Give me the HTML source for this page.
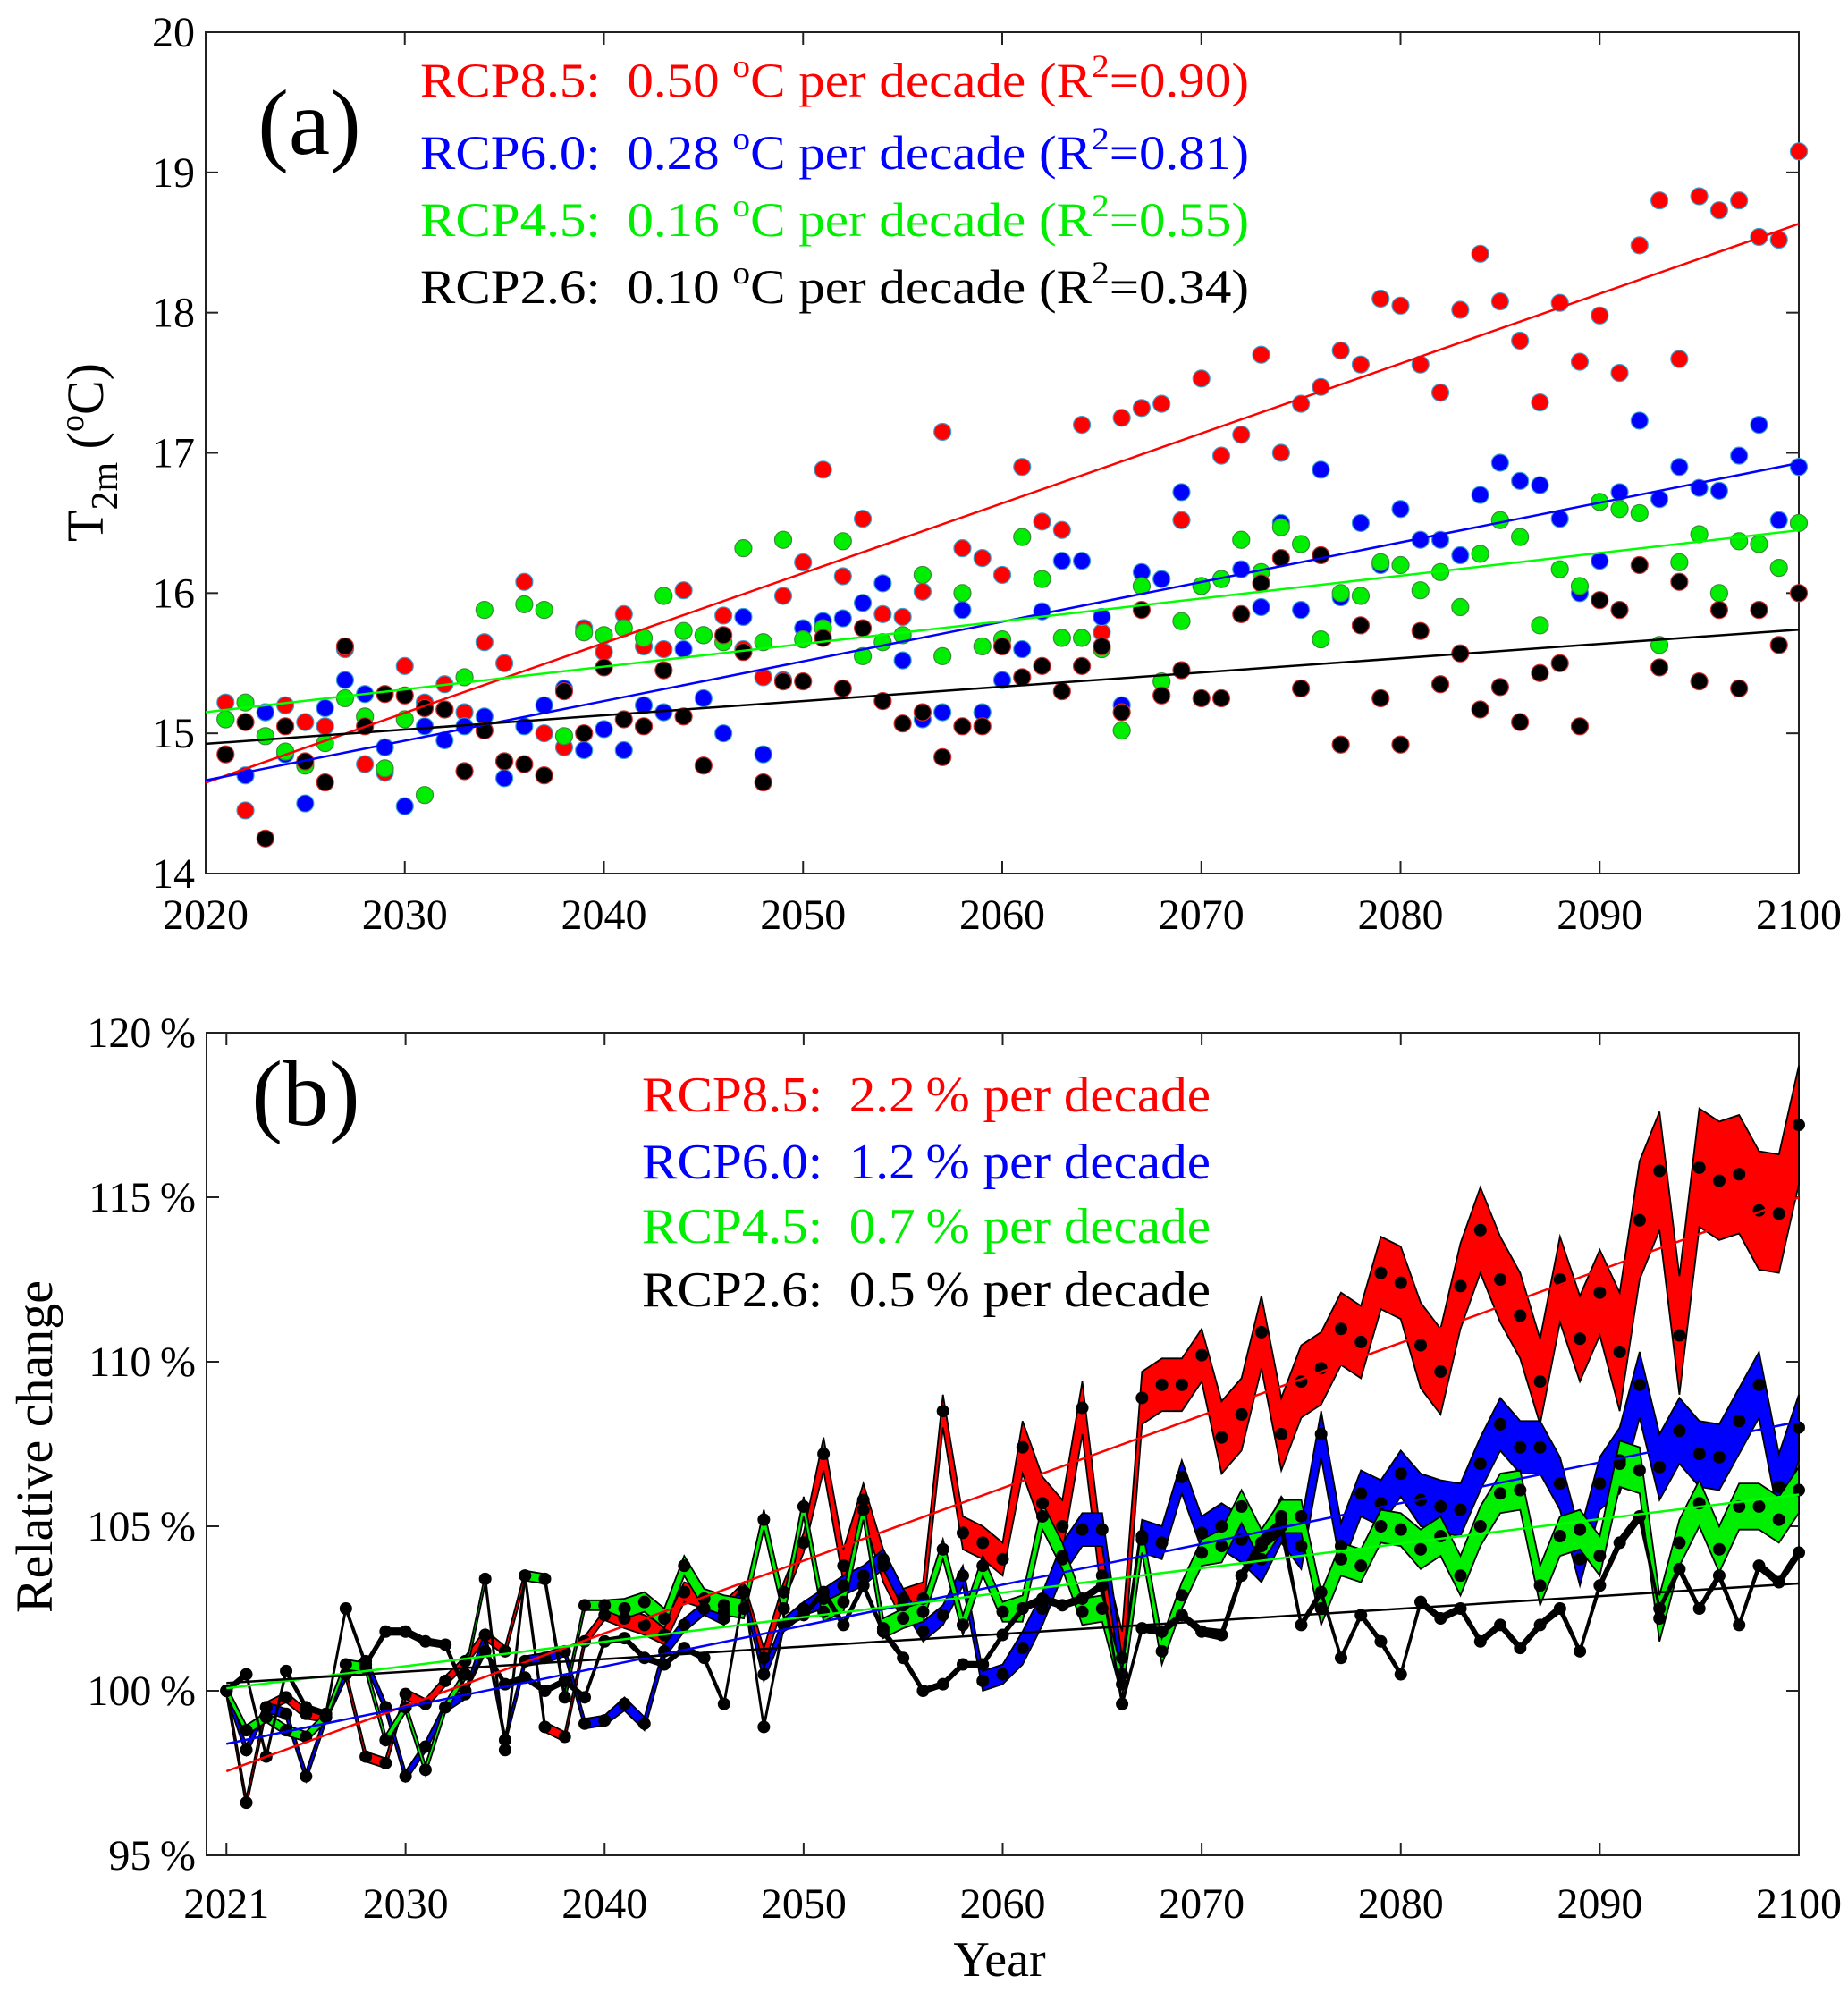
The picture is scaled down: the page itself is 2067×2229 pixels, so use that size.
<!DOCTYPE html>
<html><head><meta charset="utf-8"><style>
html,body{margin:0;padding:0;background:#fff}
svg{display:block;font-family:"Liberation Serif",serif}
</style></head><body>
<svg id="fig" width="2067" height="2229" viewBox="0 0 2067 2229" xmlns="http://www.w3.org/2000/svg">
<g id="pa"></g>
<g id="pb"></g>
</svg>
<script>
// ---------- Panel (a) data ----------
const yearsA = [];
for (let y = 2021; y <= 2100; y++) yearsA.push(y);
const t85 = [15.22,14.45,15.15,15.2,15.08,15.05,15.6,14.78,14.72,15.48,
15.22,15.35,15.15,15.65,15.5,16.08,15.0,14.9,15.75,15.58,
15.85,15.62,15.6,16.02,15.7,15.84,15.6,15.4,15.98,16.22,
16.88,16.12,16.53,15.85,15.83,16.01,17.15,16.32,16.25,16.13,
16.9,16.51,16.45,17.2,15.72,17.25,17.32,17.35,16.52,17.53,
16.98,17.13,17.7,17.0,17.35,17.47,17.73,17.63,18.1,18.05,
17.63,17.43,18.02,18.42,18.08,17.8,17.36,18.07,17.65,17.98,
17.57,18.48,18.8,17.67,18.83,18.73,18.8,18.54,18.52,19.15];
const t60 = [15.1,14.7,15.15,14.85,14.5,15.18,15.38,15.28,14.9,14.48,
15.05,14.95,15.05,15.12,14.68,15.05,15.2,15.32,14.88,15.03,
14.88,15.2,15.15,15.6,15.25,15.0,15.83,14.85,15.38,15.75,
15.8,15.82,15.93,16.07,15.52,15.1,15.15,15.88,15.15,15.38,
15.6,15.87,16.23,16.23,15.83,15.2,16.15,16.1,16.72,16.05,
16.1,16.17,15.9,16.5,15.88,16.88,15.97,16.5,16.2,16.6,
16.38,16.38,16.27,16.7,16.93,16.8,16.77,16.53,16.0,16.23,
16.72,17.23,16.67,16.9,16.75,16.73,16.98,17.2,16.52,16.9];
const t45 = [15.1,15.22,14.98,14.87,14.77,14.93,15.25,15.12,14.75,15.1,
14.56,15.17,15.4,15.88,14.8,15.92,15.88,14.98,15.72,15.7,
15.75,15.68,15.98,15.73,15.7,15.65,16.32,15.65,16.38,15.67,
15.75,16.37,15.55,15.65,15.7,16.13,15.55,16.0,15.62,15.67,
16.4,16.1,15.68,15.68,15.6,15.02,16.05,15.37,15.8,16.05,
16.1,16.38,16.15,16.47,16.35,15.67,16.0,15.98,16.22,16.2,
16.02,16.15,15.9,16.28,16.52,16.4,15.77,16.17,16.05,16.65,
16.6,16.57,15.63,16.22,16.42,16.0,16.37,16.35,16.18,16.5];
const t26 = [14.85,15.08,14.25,15.05,14.8,14.65,15.62,15.05,15.28,15.27,
15.18,15.17,14.73,15.02,14.8,14.78,14.7,15.3,15.0,15.47,
15.1,15.05,15.45,15.12,14.77,15.7,15.58,14.65,15.37,15.37,
15.68,15.32,15.75,15.23,15.07,15.15,14.83,15.05,15.05,15.62,
15.4,15.48,15.3,15.48,15.62,15.15,15.88,15.27,15.45,15.25,
15.25,15.85,16.07,16.25,15.32,16.27,14.92,15.77,15.25,14.92,
15.73,15.35,15.57,15.17,15.33,15.08,15.43,15.5,15.05,15.95,
15.88,16.2,15.47,16.08,15.37,15.88,15.32,15.88,15.63,16.0];
const yTicksA = [14,15,16,17,18,19,20];
const xTicksA = [2020,2030,2040,2050,2060,2070,2080,2090,2100];

// ---------- Panel (b) data ----------
const m85 = [100,96.6,99.5,99.8,99.3,99.2,100.5,98.0,97.8,99.9,
99.6,100.3,100.9,101.7,101.2,103.5,98.9,98.6,101.5,102.3,
102.2,102.0,101.7,103.0,102.8,102.4,103.0,101.0,103.0,104.5,
107.2,103.8,105.8,103.8,102.6,102.8,108.5,104.8,104.5,104.0,
107.4,105.7,105.0,108.6,103.5,101.0,108.9,109.3,109.3,110.2,
107.7,108.4,110.9,107.8,109.4,109.8,111.0,110.6,112.7,112.4,
110.5,109.7,112.3,114.0,112.5,111.4,109.4,112.5,110.7,112.1,
110.3,114.3,115.8,110.8,115.9,115.5,115.7,114.6,114.5,117.2];
const m60 = [100,98.2,99.5,99.3,97.4,99.2,100.5,100.9,99.5,97.4,
98.3,99.5,99.9,101.7,98.5,100.9,101.0,101.2,99.0,99.1,
99.6,99.0,101.2,102.0,102.5,102.2,103.0,100.5,102.0,102.5,
102.8,103.2,103.5,104.0,102.8,101.8,102.3,103.5,100.3,100.5,
101.3,102.5,104.0,104.9,104.9,100.5,104.7,104.5,106.5,104.8,
105.0,104.6,104.0,105.2,104.4,107.8,104.4,106.0,105.7,106.6,
105.8,105.6,105.5,106.9,108.1,107.4,107.4,106.3,104.0,106.3,
107.0,109.3,106.8,107.9,107.2,107.1,108.2,109.3,106.2,108.0];
const m45 = [100,98.8,99.2,98.8,98.6,99.2,100.8,100.7,98.5,99.5,
97.6,99.5,100.5,103.4,98.2,103.5,103.4,99.8,102.6,102.6,
102.5,102.7,102.2,103.8,102.8,102.6,102.5,105.2,102.5,105.6,
102.4,102.7,105.5,101.9,102.2,102.4,104.3,102.0,103.8,102.4,
102.5,105.3,104.1,102.4,102.5,100.2,104.6,101.2,102.9,104.2,
104.4,105.6,104.4,105.3,105.3,102.5,104.0,103.8,105.0,104.9,
104.3,104.7,103.5,105.0,106.0,106.1,103.2,104.7,104.9,104.1,
106.9,106.7,102.2,104.5,105.7,104.3,105.6,105.6,105.2,106.1];
const m26 = [100,100.5,98.0,100.6,99.5,99.3,102.5,100.8,101.8,101.8,
101.5,101.4,100.0,101.2,100.2,100.4,100.0,100.3,99.8,101.5,
101.6,101.0,100.8,101.3,101.0,99.6,103.0,98.9,102.0,102.3,
103.0,102.0,103.2,101.8,101.0,100.0,100.2,100.8,100.8,101.7,
102.5,102.8,102.6,102.8,103.2,99.6,101.9,101.8,102.3,101.8,
101.7,103.5,104.5,105.0,102.0,103.0,101.0,102.3,101.5,100.5,
102.7,102.2,102.5,101.5,102.0,101.3,102.0,102.5,101.2,103.2,
104.5,105.3,102.5,103.7,102.5,103.5,102.0,103.8,103.3,104.2];
const s85 = [0.15,0.15,0.15,0.15,0.15,0.15,0.15,0.15,0.15,0.15,
0.15,0.15,0.15,0.15,0.15,0.15,0.15,0.15,0.15,0.15,
0.3,0.3,0.3,0.3,0.3,0.3,0.3,0.3,0.3,0.3,
0.5,0.5,0.5,0.5,0.5,0.5,0.5,0.5,0.5,0.5,
0.8,0.8,0.8,0.8,0.8,0.8,0.8,0.8,0.8,0.8,
1.1,1.1,1.1,1.1,1.1,1.1,1.1,1.1,1.1,1.1,
1.3,1.3,1.3,1.3,1.3,1.3,1.3,1.3,1.3,1.3,
1.8,1.8,1.8,1.8,1.8,1.8,1.8,1.8,1.8,1.8];
const s60 = [0.15,0.15,0.15,0.15,0.15,0.15,0.15,0.15,0.15,0.15,
0.15,0.15,0.15,0.15,0.15,0.15,0.15,0.15,0.15,0.15,
0.2,0.2,0.2,0.2,0.2,0.2,0.2,0.2,0.2,0.2,
0.3,0.3,0.3,0.3,0.3,0.3,0.3,0.3,0.3,0.3,
0.5,0.5,0.5,0.5,0.5,0.5,0.5,0.5,0.5,0.5,
0.7,0.7,0.7,0.7,0.7,0.7,0.7,0.7,0.7,0.7,
0.8,0.8,0.8,0.8,0.8,0.8,0.8,0.8,0.8,0.8,
1.0,1.0,1.0,1.0,1.0,1.0,1.0,1.0,1.0,1.0];
const s45 = [0.15,0.15,0.15,0.15,0.15,0.15,0.15,0.15,0.15,0.15,
0.15,0.15,0.15,0.15,0.15,0.15,0.15,0.15,0.15,0.15,
0.3,0.3,0.3,0.3,0.3,0.3,0.3,0.3,0.3,0.3,
0.3,0.3,0.3,0.3,0.3,0.3,0.3,0.3,0.3,0.3,
0.4,0.4,0.4,0.4,0.4,0.4,0.4,0.4,0.4,0.4,
0.5,0.5,0.5,0.5,0.5,0.5,0.5,0.5,0.5,0.5,
0.6,0.6,0.6,0.6,0.6,0.6,0.6,0.6,0.6,0.6,
0.7,0.7,0.7,0.7,0.7,0.7,0.7,0.7,0.7,0.7];
const s26 = [0.08,0.08,0.08,0.08,0.08,0.08,0.08,0.08,0.1,0.1,
0.1,0.1,0.08,0.08,0.08,0.08,0.08,0.08,0.08,0.08,
0.08,0.08,0.08,0.08,0.08,0.08,0.1,0.08,0.08,0.08,
0.1,0.1,0.1,0.1,0.1,0.08,0.08,0.08,0.08,0.08,
0.1,0.1,0.1,0.1,0.1,0.08,0.1,0.1,0.1,0.12,
0.15,0.15,0.2,0.25,0.1,0.1,0.08,0.08,0.08,0.08,
0.1,0.1,0.1,0.1,0.1,0.1,0.1,0.12,0.08,0.12,
0.15,0.15,0.08,0.12,0.08,0.12,0.08,0.12,0.12,0.15];
const yTicksB = [95,100,105,110,115,120];
const xTicksB = [2021,2030,2040,2050,2060,2070,2080,2090,2100];

const NS = "http://www.w3.org/2000/svg";
function mk(parent, tag, attrs, text) {
  const e = document.createElementNS(NS, tag);
  for (const k in attrs) e.setAttribute(k, attrs[k]);
  if (text !== undefined) e.textContent = text;
  parent.appendChild(e);
  return e;
}
function fit(xs, ys) {
  const n = xs.length; let sx=0, sy=0, sxx=0, sxy=0;
  for (let i=0;i<n;i++){sx+=xs[i];sy+=ys[i];sxx+=xs[i]*xs[i];sxy+=xs[i]*ys[i];}
  const b=(n*sxy-sx*sy)/(n*sxx-sx*sx); const a=(sy-b*sx)/n; return [a,b];
}
const colors = ['#ff0000','#0000ff','#00ee00','#000000'];

// ===== Panel A =====
(function(){
  const g = document.getElementById('pa');
  const L=230, R=2012, T=36, B=977;
  const xA = v => L + (v-2020)/80*(R-L);
  const yA = v => B - (v-14)/6*(B-T);
  const box = mk(g,'rect',{x:L,y:T,width:R-L,height:B-T,fill:'none',stroke:'#222','stroke-width':2});
  
  
  yTicksA.forEach(v=>{
    mk(g,'line',{x1:L,x2:L+14,y1:yA(v),y2:yA(v),stroke:'#222','stroke-width':2});
    mk(g,'line',{x1:R,x2:R-14,y1:yA(v),y2:yA(v),stroke:'#222','stroke-width':2});
    const t = mk(g,'text',{x:L-12,y:yA(v)+16,'text-anchor':'end','font-size':48},String(v));
    
    
  });
  xTicksA.forEach(v=>{
    mk(g,'line',{x1:xA(v),x2:xA(v),y1:B,y2:B-14,stroke:'#222','stroke-width':2});
    mk(g,'line',{x1:xA(v),x2:xA(v),y1:T,y2:T+14,stroke:'#222','stroke-width':2});
    const t = mk(g,'text',{x:xA(v),y:B+62,'text-anchor':'middle','font-size':48},String(v));
    
    
  });
  const series = [t85,t60,t45,t26];
  const strokes = ['#3aa0d0','#3aa0d0','#3a8a3a','#d03030'];
  const names = ['rcp85','rcp60','rcp45','rcp26'];
  series.forEach((s,k)=>{
    const sg = mk(g,'g',{});
    
    
    s.forEach((v,i)=>{
      const c = mk(sg,'circle',{cx:xA(yearsA[i]),cy:yA(v),r:9.5,fill:colors[k],stroke:strokes[k],'stroke-width':1.2});
      
      
    });
  });
  series.forEach((s,k)=>{
    const [a,b] = fit(yearsA,s);
    const ln = mk(g,'line',{x1:xA(2020),y1:yA(a+b*2020),x2:xA(2100),y2:yA(a+b*2100),stroke:colors[k]==='#00ee00'?'#00ff00':colors[k],'stroke-width':2.5});
    
    
  });
  const lab = mk(g,'text',{x:346,y:172,'font-size':104,'text-anchor':'middle'},'(a)');
  
  
  const leg = [
    ['RCP8.5:','0.50','0.90','#ff0000',108],
    ['RCP6.0:','0.28','0.81','#0000ff',189],
    ['RCP4.5:','0.16','0.55','#00ee00',264],
    ['RCP2.6:','0.10','0.34','#000000',339]];
  leg.forEach(r=>{
    const t = mk(g,'text',{x:470,y:r[4],'font-size':54,fill:r[3],textLength:927,lengthAdjust:'spacingAndGlyphs'});
    
    
    t.innerHTML = r[0]+'\u00a0\u00a0'+r[1]+' <tspan dy="-22" font-size="36">o</tspan><tspan dy="22">C per decade (R</tspan><tspan dy="-22" font-size="36">2</tspan><tspan dy="22">='+r[2]+')</tspan>';
  });
  const yt = mk(g,'text',{transform:'translate(115,506) rotate(-90)','text-anchor':'middle','font-size':58});
  
  
  yt.innerHTML = 'T<tspan dy="16" font-size="42">2m</tspan><tspan dy="-16"> (</tspan><tspan dy="-22" font-size="38">o</tspan><tspan dy="22">C)</tspan>';
})();

// ===== Panel B =====
(function(){
  const g = document.getElementById('pb');
  const L=231, R=2012, T=1155, B=2075;
  const xB = v => L + (v-2020)/80*(R-L);
  const yB = v => B - (v-95)/25*(B-T);
  const box = mk(g,'rect',{x:L,y:T,width:R-L,height:B-T,fill:'none',stroke:'#222','stroke-width':2});
  
  
  yTicksB.forEach(v=>{
    mk(g,'line',{x1:L,x2:L+14,y1:yB(v),y2:yB(v),stroke:'#222','stroke-width':2});
    mk(g,'line',{x1:R,x2:R-14,y1:yB(v),y2:yB(v),stroke:'#222','stroke-width':2});
    const t = mk(g,'text',{x:L-12,y:yB(v)+16,'text-anchor':'end','font-size':48},v+'\u2009%');
    
    
  });
  xTicksB.forEach(v=>{
    mk(g,'line',{x1:xB(v),x2:xB(v),y1:B,y2:B-14,stroke:'#222','stroke-width':2});
    mk(g,'line',{x1:xB(v),x2:xB(v),y1:T,y2:T+14,stroke:'#222','stroke-width':2});
    const t = mk(g,'text',{x:xB(v),y:B+70,'text-anchor':'middle','font-size':48},String(v));
    
    
  });
  const means=[m85,m60,m45,m26], spreads=[s85,s60,s45,s26];
  const names=['rcp85','rcp60','rcp45','rcp26'];
  means.forEach((m,k)=>{
    const s=spreads[k];
    let up=[],dn=[];
    m.forEach((v,i)=>{up.push(xB(yearsA[i])+','+yB(v+s[i])); dn.unshift(xB(yearsA[i])+','+yB(v-s[i]));});
    const p = mk(g,'polygon',{points:up.concat(dn).join(' '),fill:colors[k],stroke:'#000','stroke-width':1.8,'stroke-linejoin':'miter'});
    
    
  });
  means.forEach((m,k)=>{
    const dg = mk(g,'g',{});
    
    
    m.forEach((v,i)=>{
      const c = mk(dg,'circle',{cx:xB(yearsA[i]),cy:yB(v),r:7,fill:'#000'});
      
      
    });
  });
  means.forEach((m,k)=>{
    const [a,b]=fit(yearsA,m);
    const ln = mk(g,'line',{x1:xB(2021),y1:yB(a+b*2021),x2:xB(2100),y2:yB(a+b*2100),stroke:colors[k]==='#00ee00'?'#00ff00':colors[k],'stroke-width':2.5});
    
    
  });
  const lab = mk(g,'text',{x:342,y:1258,'font-size':104,'text-anchor':'middle'},'(b)');
  
  
  const leg=[['RCP8.5:','2.2','#ff0000',1243],['RCP6.0:','1.2','#0000ff',1318],['RCP4.5:','0.7','#00ee00',1390],['RCP2.6:','0.5','#000000',1461]];
  leg.forEach(r=>{
    const t = mk(g,'text',{x:718,y:r[3],'font-size':56,fill:r[2],textLength:636,lengthAdjust:'spacingAndGlyphs'},r[0]+'\u00a0\u00a0'+r[1]+'\u2009% per decade');
    
    
  });
  const yt = mk(g,'text',{transform:'translate(58,1618) rotate(-90)','text-anchor':'middle','font-size':58},'Relative change');
  
  
  const xt = mk(g,'text',{x:1118,y:2210,'text-anchor':'middle','font-size':56},'Year');
  
  
})();
</script>
</body></html>
